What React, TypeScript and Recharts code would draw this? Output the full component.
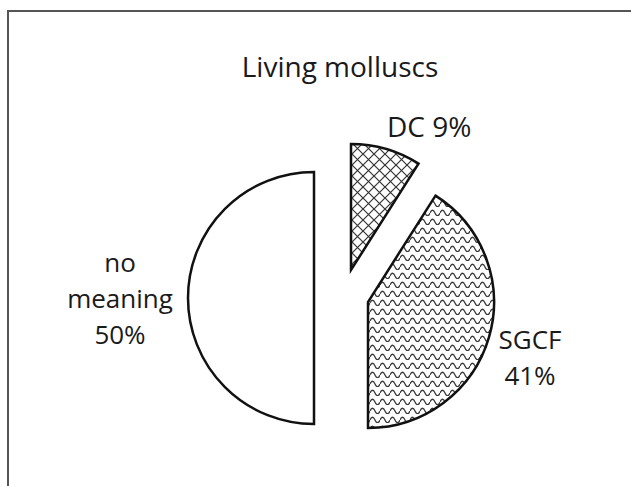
import { PieChart, Pie, Cell } from "recharts";

const categories = ["DC", "SGCF", "no meaning"];
const shares = [9, 41, 50];
const labelLines = [["DC 9%"], ["SGCF", "41%"], ["no", "meaning", "50%"]];

const data = categories.map((name, i) => ({ name, value: shares[i] }));

// each slice is pulled out from the middle by hand in the original
const sliceCenters = [
  { cx: 351, cy: 270 },
  { cx: 368, cy: 302 },
  { cx: 314, cy: 298 },
];
const sliceFills = ["url(#crossHatch)", "url(#waves)", "#ffffff"];
const labelPos = [
  { x: 387, y: 137, anchor: "start", size: 28 },
  { x: 530, y: 349, anchor: "middle", size: 26 },
  { x: 120, y: 272, anchor: "middle", size: 26 },
];

const FONT = "'Open Sans', sans-serif";

function renderLabel(sliceIdx: number) {
  return (props: any) => {
    if (props.index !== sliceIdx) return null;
    const p = labelPos[sliceIdx];
    return (
      <g key={`lbl-${sliceIdx}`}>
        {labelLines[sliceIdx].map((line, i) => (
          <text
            key={i}
            x={p.x}
            y={p.y + i * 36}
            textAnchor={p.anchor}
            fontFamily={FONT}
            fontSize={p.size}
            fill="#1a1a1a"
          >
            {line}
          </text>
        ))}
      </g>
    );
  };
}

export default function App() {
  return (
    <div style={{ position: "fixed", left: 0, top: 0, width: 631, height: 486, background: "#fff" }}>
      <div
        style={{
          position: "absolute",
          left: 7,
          top: 10,
          width: 640,
          height: 490,
          borderLeft: "2px solid #555",
          borderTop: "2px solid #555",
        }}
      />
      <div style={{ position: "absolute", left: 0, top: 0 }}>
        <PieChart width={631} height={486} margin={{ top: 0, right: 0, bottom: 0, left: 0 }}>
          <defs>
            <pattern id="crossHatch" width="11" height="11" patternUnits="userSpaceOnUse">
              <rect width="11" height="11" fill="#fff" />
              <path d="M0 0 L11 11 M11 0 L0 11" stroke="#333" strokeWidth="1.2" />
            </pattern>
            <pattern id="waves" width="10" height="9" patternUnits="userSpaceOnUse">
              <rect width="10" height="9" fill="#fff" />
              <path d="M0 6 Q2.5 0.5 5 6 T10 6" fill="none" stroke="#3a3a3a" strokeWidth="1.3" />
            </pattern>
          </defs>
          <text x={340} y={77} textAnchor="middle" fontFamily={FONT} fontSize={28} fill="#1a1a1a">
            Living molluscs
          </text>
          {sliceCenters.map((c, s) => (
            <Pie
              key={categories[s]}
              data={data}
              dataKey="value"
              nameKey="name"
              cx={c.cx}
              cy={c.cy}
              innerRadius={0}
              outerRadius={126}
              startAngle={90}
              endAngle={-270}
              isAnimationActive={false}
              labelLine={false}
              label={renderLabel(s)}
            >
              {data.map((d, i) => (
                <Cell
                  key={`cell-${s}-${i}`}
                  fill={i === s ? sliceFills[i] : "none"}
                  stroke={i === s ? "#111" : "none"}
                  strokeWidth={2.5}
                  strokeLinejoin="miter"
                />
              ))}
            </Pie>
          ))}
        </PieChart>
      </div>
    </div>
  );
}
